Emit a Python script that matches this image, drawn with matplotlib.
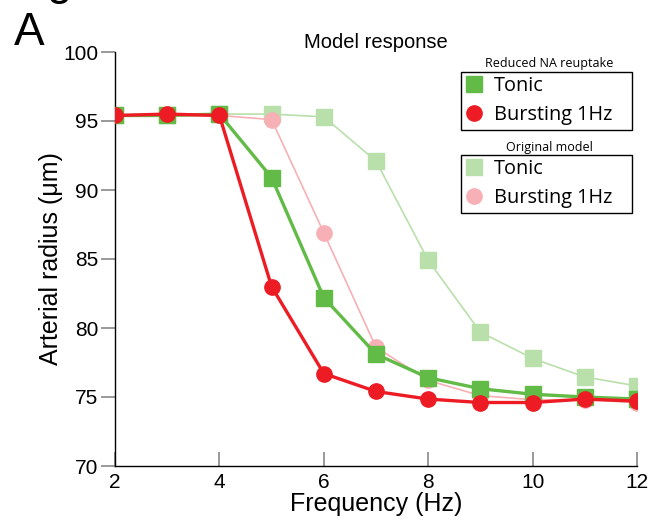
import matplotlib
matplotlib.use("Agg")
import matplotlib.pyplot as plt
from matplotlib.lines import Line2D

freq = [2, 3, 4, 5, 6, 7, 8, 9, 10, 11, 12]
reduced_tonic = [95.4, 95.4, 95.5, 90.9, 82.2, 78.1, 76.4, 75.6, 75.2, 75.0, 74.85]
reduced_burst = [95.4, 95.5, 95.4, 83.0, 76.7, 75.4, 74.85, 74.6, 74.6, 74.85, 74.7]
orig_tonic = [95.4, 95.4, 95.5, 95.5, 95.3, 92.1, 84.9, 79.7, 77.8, 76.45, 75.8]
orig_burst = [95.4, 95.4, 95.4, 95.1, 86.9, 78.6, 76.2, 75.1, 74.8, 74.8, 74.6]

xticks = [2, 4, 6, 8, 10, 12]
yticks = [70, 75, 80, 85, 90, 95, 100]

GREEN = "#62bb46"
RED = "#ed1c24"
LGREEN = "#b9dfaa"
LRED = "#f7b0b5"

plt.rcParams['font.family'] = ['Liberation Sans', 'DejaVu Sans']

fig = plt.figure(figsize=(6.55, 5.29), dpi=100)
ax = fig.add_axes([115/655, 1-466/529, (637-115)/655, (466-52)/529])

ms = 11
ax.plot(freq, orig_tonic, color=LGREEN, lw=1.2, marker='s', ms=ms, mec=LGREEN, zorder=2)
ax.plot(freq, orig_burst, color=LRED, lw=1.2, marker='o', ms=ms, mec=LRED, zorder=2)
ax.plot(freq, reduced_tonic, color=GREEN, lw=2.4, marker='s', ms=ms, mec=GREEN, zorder=3)
ax.plot(freq, reduced_burst, color=RED, lw=2.4, marker='o', ms=ms, mec=RED, zorder=4)

ax.set_xlim(2, 12)
ax.set_ylim(70, 100)
ax.set_xticks(xticks)
ax.set_yticks(yticks)
for s in ['top', 'right']:
    ax.spines[s].set_visible(False)
for s in ['left', 'bottom']:
    ax.spines[s].set_linewidth(1.0)
    ax.spines[s].set_color('black')
ax.tick_params(axis='y', direction='out', length=10, width=1.2, color='#888888', labelsize=15, pad=2)
ax.tick_params(axis='x', direction='in', length=10, width=1.2, color='#888888', labelsize=15, pad=5)
for c in ax.spines.values():
    c.set_clip_on(False)

ax.set_xlabel("Frequency (Hz)", fontsize=18, labelpad=0)
ax.set_ylabel("Arterial radius (\u03bcm)", fontsize=18, labelpad=0)
ax.set_title("Model response", fontsize=14.5, pad=1)

fig.text(14/655, 1-45/529, "A", fontsize=33, va='baseline', ha='left')
fig.text(46/655, 1+6/529, "g", fontsize=33, va='baseline', ha='left')

legfont = dict(family=['Open Sans', 'DejaVu Sans'], size=14.3)
h1 = [Line2D([], [], ls='none', marker='s', ms=11, color=GREEN, mec=GREEN),
      Line2D([], [], ls='none', marker='o', ms=11, color=RED, mec=RED)]
h2 = [Line2D([], [], ls='none', marker='s', ms=11, color=LGREEN, mec=LGREEN),
      Line2D([], [], ls='none', marker='o', ms=11, color=LRED, mec=LRED)]
labels = ["Tonic", "Bursting 1Hz   "]

def make_leg(handles, top):
    leg = ax.legend(handles, labels, loc='upper right',
                    bbox_to_anchor=(632/655, 1-top/529), bbox_transform=fig.transFigure,
                    borderaxespad=0, frameon=True, fancybox=False, prop=legfont,
                    handlelength=0.9, handletextpad=0.55, labelspacing=0.45,
                    borderpad=0.22, framealpha=1, edgecolor='black')
    leg.get_frame().set_linewidth(1.0)
    return leg

leg1 = make_leg(h1, 72)
ax.add_artist(leg1)
leg2 = make_leg(h2, 155)

fig.text(549/655, 1-64/529, "Reduced NA reuptake", fontsize=9, ha='center', va='center',
         family=['Open Sans', 'DejaVu Sans'])
fig.text(549/655, 1-148/529, "Original model", fontsize=9, ha='center', va='center',
         family=['Open Sans', 'DejaVu Sans'])

fig.savefig("out.png", dpi=100)
